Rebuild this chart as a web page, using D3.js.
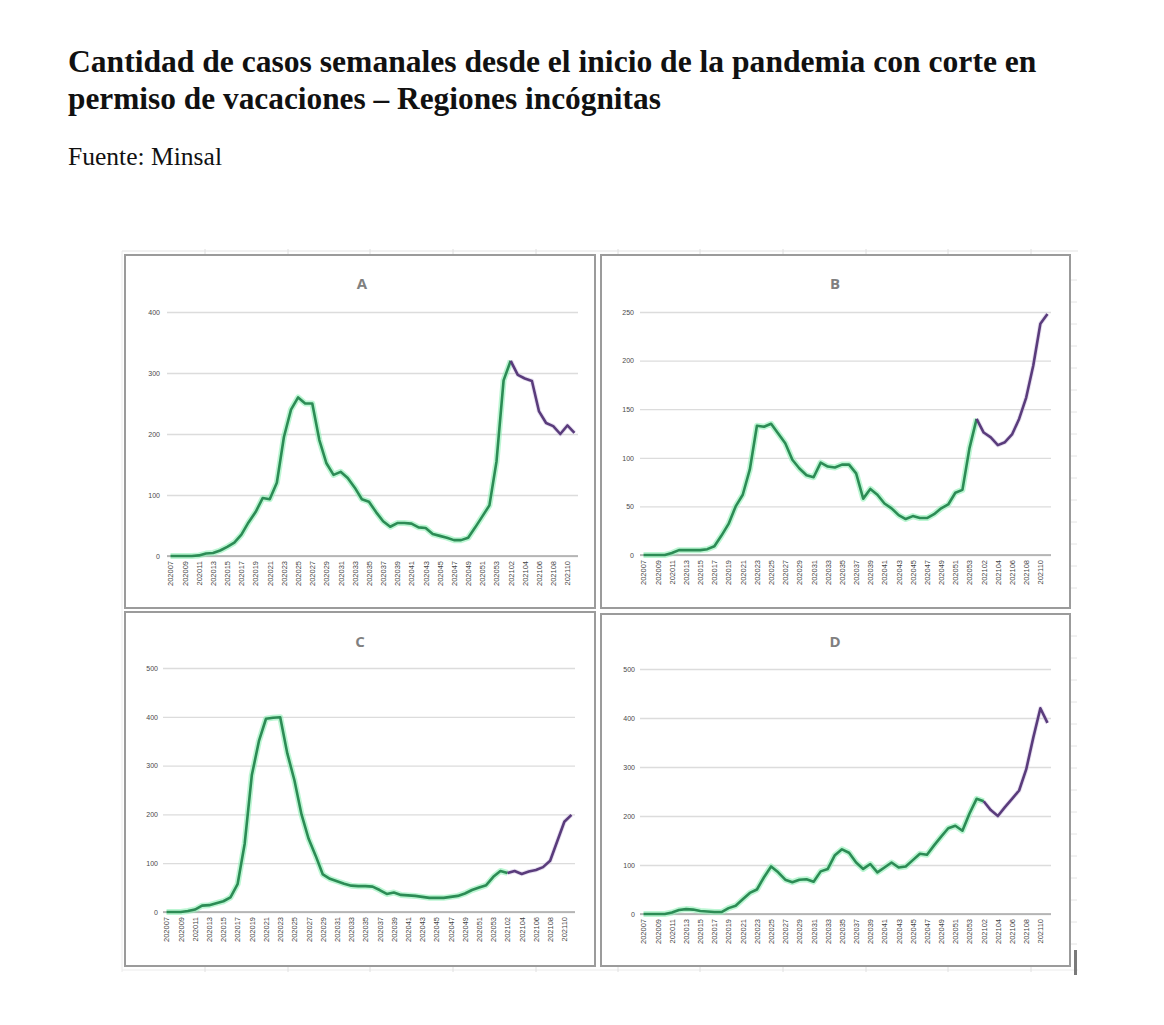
<!DOCTYPE html>
<html>
<head>
<meta charset="utf-8">
<script src="https://cdn.jsdelivr.net/npm/d3@7"></script>
<style>
  html, body { margin: 0; padding: 0; background: #ffffff; }
  svg { display: block; }
</style>
</head>
<body>
<svg id="chart" width="1164" height="1025"></svg>
<script>
// ---------------- DATA ----------------
const titleLines = [
  "Cantidad de casos semanales desde el inicio de la pandemia con corte en",
  "permiso de vacaciones \u2013 Regiones incógnitas"
];
const sourceText = "Fuente: Minsal";

const regionNames = ["A", "B", "C", "D"];

const weeks = [
  "202007","202008","202009","202010","202011","202012","202013","202014","202015","202016",
  "202017","202018","202019","202020","202021","202022","202023","202024","202025","202026",
  "202027","202028","202029","202030","202031","202032","202033","202034","202035","202036",
  "202037","202038","202039","202040","202041","202042","202043","202044","202045","202046",
  "202047","202048","202049","202050","202051","202052","202053",
  "202101","202102","202103","202104","202105","202106","202107","202108","202109","202110","202111"
];

const tickLabels = [
  "202007","202009","202011","202013","202015","202017","202019","202021","202023","202025",
  "202027","202029","202031","202033","202035","202037","202039","202041","202043","202045",
  "202047","202049","202051","202053","202102","202104","202106","202108","202110"
];

const casesA = [0,0,0,0,1,4,5,9,15,22,35,55,72,95,93,120,195,240,260,250,
  250,190,152,133,138,128,112,93,89,72,57,48,54,54,53,47,46,36,33,30,
  26,26,30,47,65,83,155,288,320,297,291,287,237,218,213,200,214,202];

const casesB = [0,0,0,0,2,5,5,5,5,6,9,20,32,50,62,88,133,132,135,125,
  115,98,89,82,80,95,91,90,93,93,84,58,68,62,53,48,41,37,40,38,
  38,42,48,52,64,67,110,140,126,121,113,116,124,140,162,195,238,248];

const casesC = [0,0,0,2,5,13,14,18,22,30,57,140,280,350,396,398,399,325,270,200,
  150,115,77,68,63,58,54,53,53,52,45,37,40,35,34,33,31,29,29,29,
  31,33,38,45,50,55,72,84,80,84,78,83,86,92,105,145,185,199];

const casesD = [0,0,0,0,3,8,10,9,6,5,4,4,12,17,30,43,50,75,97,85,
  70,65,70,71,66,87,92,120,132,125,105,92,102,85,95,105,95,97,110,123,
  121,140,158,175,180,170,205,235,230,212,200,218,235,252,295,360,420,390];

// week from which the line is drawn in the second colour (vacation permit cut)
const cutWeeks = ["202102", "202101", "202102", "202102"];

const yMax   = [400, 250, 500, 500];
const yStep  = [100, 50, 100, 100];

// ---------------- DRAWING ----------------
const series = [casesA, casesB, casesC, casesD];
const svg = d3.select("#chart");

// Title
const titleG = svg.append("g");
function fitText(sel, target) {
  let fs = parseFloat(sel.attr("font-size"));
  for (let k = 0; k < 4; k++) {
    const w = sel.node().getComputedTextLength();
    if (w > 0) { fs = fs * target / w; sel.attr("font-size", fs.toFixed(2)); }
  }
}
const t1 = titleG.append("text").attr("x", 68).attr("y", 72)
  .attr("font-family", "'Liberation Serif', 'DejaVu Serif', serif")
  .attr("font-weight", "bold").attr("font-size", 27).attr("fill", "#111")
  .text(titleLines[0]);
fitText(t1, 969);
const t2 = titleG.append("text").attr("x", 68).attr("y", 109)
  .attr("font-family", "'Liberation Serif', 'DejaVu Serif', serif")
  .attr("font-weight", "bold").attr("font-size", 27).attr("fill", "#111")
  .text(titleLines[1]);
fitText(t2, 593);
const t3 = titleG.append("text").attr("x", 68).attr("y", 165)
  .attr("font-family", "'Liberation Serif', 'DejaVu Serif', serif")
  .attr("font-size", 21).attr("fill", "#111")
  .text(sourceText);
fitText(t3, 154);

// faint spreadsheet background
const bg = svg.append("g");
bg.append("line").attr("x1", 122).attr("x2", 1078).attr("y1", 251).attr("y2", 251)
  .attr("stroke", "#e4e4e4").attr("stroke-width", 1.2);
bg.append("line").attr("x1", 122).attr("x2", 122).attr("y1", 251).attr("y2", 972)
  .attr("stroke", "#ececec").attr("stroke-width", 1);
bg.append("line").attr("x1", 122).attr("x2", 1078).attr("y1", 970).attr("y2", 970)
  .attr("stroke", "#ececec").attr("stroke-width", 1);
[205, 288, 370, 453, 536, 618, 700, 783, 866, 948, 1031].forEach(x => {
  bg.append("line").attr("x1", x).attr("x2", x).attr("y1", 249).attr("y2", 254)
    .attr("stroke", "#e0e0e0");
  bg.append("line").attr("x1", x).attr("x2", x).attr("y1", 966).attr("y2", 972)
    .attr("stroke", "#e0e0e0");
});
[280, 302, 324, 346, 368, 390, 412, 434, 456, 478, 500, 522, 544, 566, 588,
 636, 658, 680, 702, 724, 746, 768, 790, 812, 834, 856, 878, 900, 922, 944].forEach(y => {
  bg.append("line").attr("x1", 1071).attr("x2", 1077).attr("y1", y).attr("y2", y)
    .attr("stroke", "#e4e4e4");
});
bg.append("rect").attr("x", 1074).attr("y", 950).attr("width", 3).attr("height", 25)
  .attr("fill", "#7a7a7a");

const panels = [
  { box: [125, 255, 470, 353], px: [167, 578], py: [556, 312], lblX: 160, title: [362, 289] },
  { box: [601, 255, 469, 353], px: [640, 1051], py: [555, 312], lblX: 634, title: [835, 289] },
  { box: [125, 612, 470, 354], px: [163, 575], py: [912, 668], lblX: 158, title: [360, 647] },
  { box: [601, 614, 469, 352], px: [640, 1051], py: [914, 669], lblX: 635, title: [835, 647] }
];

panels.forEach((p, k) => {
  const g = svg.append("g");
  g.append("rect").attr("x", p.box[0]).attr("y", p.box[1])
    .attr("width", p.box[2]).attr("height", p.box[3])
    .attr("fill", "#fff").attr("stroke", "#9b9b9b").attr("stroke-width", 2);

  g.append("text").attr("x", p.title[0]).attr("y", p.title[1])
    .attr("text-anchor", "middle")
    .attr("font-family", "'Open Sans', 'Liberation Sans', sans-serif")
    .attr("font-weight", "bold").attr("font-size", 15).attr("fill", "#808080")
    .text(regionNames[k]);

  const x = d3.scalePoint().domain(weeks).range(p.px).padding(0.5);
  const y = d3.scaleLinear().domain([0, yMax[k]]).range(p.py);
  const ticks = d3.range(0, yMax[k] + 1, yStep[k]);

  // gridlines + y labels
  const yAxis = d3.axisLeft(y).tickValues(ticks).tickSize(-(p.px[1] - p.px[0])).tickPadding(6)
    .tickFormat(d3.format("d"));
  const ya = g.append("g").attr("transform", `translate(${p.px[0]},0)`).call(yAxis);
  ya.select(".domain").remove();
  ya.selectAll(".tick line").attr("stroke", "#dcdcdc").attr("stroke-width", 1.3);
  ya.selectAll(".tick text").attr("font-family", "'Liberation Sans', sans-serif")
    .attr("font-size", 7).attr("fill", "#4a4a4a").attr("x", -(p.px[0] - p.lblX));

  // x axis
  const xAxis = d3.axisBottom(x).tickValues(tickLabels).tickSize(0).tickPadding(5);
  const xa = g.append("g").attr("transform", `translate(0,${p.py[0]})`).call(xAxis);
  xa.select(".domain").attr("stroke", "#a8a8a8").attr("stroke-width", 1.6)
    .attr("d", `M${p.px[0]},0H${p.px[1]}`);
  xa.selectAll(".tick text")
    .attr("font-family", "'Liberation Sans Narrow', 'Liberation Sans', sans-serif")
    .attr("font-size", 7.5).attr("fill", "#444")
    .attr("transform", "rotate(-90)")
    .attr("text-anchor", "end").attr("dy", "0.32em").attr("y", 0).attr("x", -5);

  // lines
  const vals = series[k];
  const data = weeks.map((w, i) => ({ w, v: vals[i] }));
  const ci = weeks.indexOf(cutWeeks[k]);
  const green = data.slice(0, ci + 1);
  const purple = data.slice(ci);
  const line = d3.line().x(d => x(d.w)).y(d => y(d.v));

  g.append("path").datum(green).attr("d", line).attr("fill", "none")
    .attr("stroke", "#8ff0b6").attr("stroke-width", 6).attr("stroke-opacity", 0.6)
    .attr("stroke-linejoin", "round");
  g.append("path").datum(purple).attr("d", line).attr("fill", "none")
    .attr("stroke", "#cdbde0").attr("stroke-width", 4.5).attr("stroke-opacity", 0.45)
    .attr("stroke-linejoin", "round");
  g.append("path").datum(green).attr("d", line).attr("fill", "none")
    .attr("stroke", "#2c8c55").attr("stroke-width", 2.6)
    .attr("stroke-linejoin", "round");
  g.append("path").datum(purple).attr("d", line).attr("fill", "none")
    .attr("stroke", "#5a3c7c").attr("stroke-width", 2.6)
    .attr("stroke-linejoin", "round");
});
</script>
</body>
</html>
